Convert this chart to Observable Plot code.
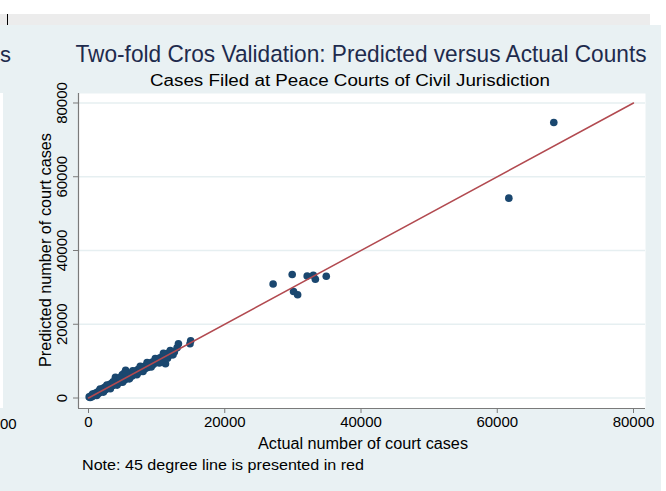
<!DOCTYPE html>
<html><head><meta charset="utf-8">
<script src="https://cdn.jsdelivr.net/npm/d3@7"></script>
<script src="https://cdn.jsdelivr.net/npm/@observablehq/plot@0.6"></script>
<style>
body{margin:0;background:#fff;}
#wrap{position:relative;width:666px;height:491px;overflow:hidden;font-family:"Liberation Sans",Arial,sans-serif;}
.bg{position:absolute;}
</style></head><body>
<div id="wrap">
<div class="bg" style="left:0;top:14px;width:650px;height:11px;background:#ececec"></div>
<div class="bg" style="left:7px;top:14px;width:1px;height:11px;background:#000"></div>
<div class="bg" style="left:0;top:25px;width:661px;height:466px;background:#e9f1f3"></div>
<div class="bg" style="left:0;top:93px;width:3px;height:315px;background:#fff"></div>
<div id="chart" style="position:absolute;left:0;top:0"></div>
</div>
<script>
const title = "Two-fold Cros Validation: Predicted versus Actual Counts";
const subtitle = "Cases Filed at Peace Courts of Civil Jurisdiction";
const xLabel = "Actual number of court cases";
const yLabel = "Predicted number of court cases";
const note = "Note: 45 degree line is presented in red";

const actual = [100,250,400,500,650,800,900,1000,1150,1300,1400,1500,1650,1800,1900,2000,2150,2300,2400,2500,
  2650,2800,2900,3000,3150,3300,3400,3500,3650,3800,3950,4000,4150,4300,4400,4500,4650,4800,4950,5100,
  5200,5300,5450,5600,5750,5900,6100,6250,6400,6600,6800,7000,7150,7300,7500,7700,7900,8100,8300,8500,
  8700,8900,9100,9300,9500,9700,9900,10100,10300,10500,10700,10900,11050,11100,11200,11300,11500,11700,11900,12100,
  12300,12600,13000,13200,14900,15000,
  600,1200,1700,2200,2700,3200,3600,4200,4700,5000,5500,6000,6500,7100,7600,8000,8600,9200,9800,10400,11000,11600,12000,12400,
  27100,29900,30100,30700,32100,33000,33300,34900,61700,68300];
const predicted = [300,150,600,350,800,650,1200,850,1400,1100,1700,1300,2000,1600,2300,1800,2600,2100,2900,2300,
  3100,2600,3400,2800,3700,3100,3900,3300,4200,3600,5600,4300,3900,4800,5200,4200,5100,4500,6300,5300,
  6600,4900,7500,5900,5300,6400,5700,6800,6000,7100,6500,7400,6700,7800,7100,8200,7500,8500,7900,8900,
  8300,9300,9000,9700,9100,10000,9600,10500,10000,10900,10400,11300,11530,10800,11800,9300,12000,11300,12400,11800,
  12200,12500,13600,14700,14700,15500,
  1100,700,2400,1600,3500,2500,4400,3500,5600,4300,6700,5200,7400,6300,8600,7200,9600,8400,10700,9500,12100,10800,12900,11700,
  30900,33500,28900,28000,33100,33300,32200,33000,54200,74700];

const diagonal = [0, 80000];
const xTicks = [0, 20000, 40000, 60000, 80000];
const yTicks = [0, 20000, 40000, 60000, 80000];
const xDomain = [-1468, 81761];
const yDomain = [-2847, 82576];

const points = actual.map((a, i) => ({a, p: predicted[i]}));
const font = '"Liberation Sans", Arial, sans-serif';

const svg = Plot.plot({
  width: 666, height: 491,
  marginLeft: 78, marginRight: 21, marginTop: 93, marginBottom: 83,
  style: {background: "transparent", fontFamily: font, fontSize: "15px", color: "#000"},
  x: {domain: xDomain},
  y: {domain: yDomain},
  marks: [
    Plot.frame({fill: "#fff", stroke: null}),
    Plot.ruleY(yTicks, {y: d => d, stroke: "#e6eff1", strokeWidth: 1.5}),
    Plot.ruleY([yDomain[0]], {stroke: "#7a7a7a", strokeWidth: 1.2}),
    Plot.ruleX([xDomain[0]], {stroke: "#7a7a7a", strokeWidth: 1.2}),
    Plot.axisX({ticks: xTicks, tickSize: 5, tickPadding: 3, tickFormat: d => String(d), label: null, stroke: "#7a7a7a", fill: "#000", fontSize: 15}),
    Plot.axisY({ticks: yTicks, tickSize: 5, tickRotate: -90, tickPadding: 7, tickFormat: d => String(d), label: null, stroke: "#7a7a7a", fill: "#000", fontSize: 15}),
    Plot.dot(points, {x: "a", y: "p", r: 3.8, fill: "#1a476f", stroke: null}),
    Plot.line(diagonal, {x: d => d, y: d => d, stroke: "#b24a50", strokeWidth: 1.5})
  ]
});

const s = d3.select(svg);
function addText(str, x, y, opts) {
  const t = s.append("text").text(str)
    .attr("x", x).attr("y", y)
    .attr("font-family", font)
    .attr("font-size", opts.size)
    .attr("fill", opts.fill || "#000")
    .attr("text-anchor", opts.anchor || "middle");
  if (opts.len) t.attr("textLength", opts.len).attr("lengthAdjust", "spacingAndGlyphs");
  if (opts.transform) t.attr("transform", opts.transform);
  if (opts.baseline) t.attr("dominant-baseline", opts.baseline);
  return t;
}
addText(title, 0, 0, {size: 22, fill: "#1e2b4d", len: 571, transform: "translate(361,62) scale(1,1.08)"});
addText(subtitle, 350, 86, {size: 16, len: 400});
addText(xLabel, 363, 449, {size: 16, len: 210});
addText(note, 82, 470, {size: 15.5, anchor: "start", len: 282});
addText(yLabel, 0, 0, {size: 16, len: 234, baseline: "central", transform: "translate(45,250) rotate(-90)"});
// edges of the neighbouring graph, cut off by the crop
addText("s", 0, 62, {size: 22, fill: "#1e2b4d", anchor: "start"});
addText("00", 0, 429, {size: 15, anchor: "start"});

document.getElementById("chart").appendChild(svg);
</script>
</body></html>
